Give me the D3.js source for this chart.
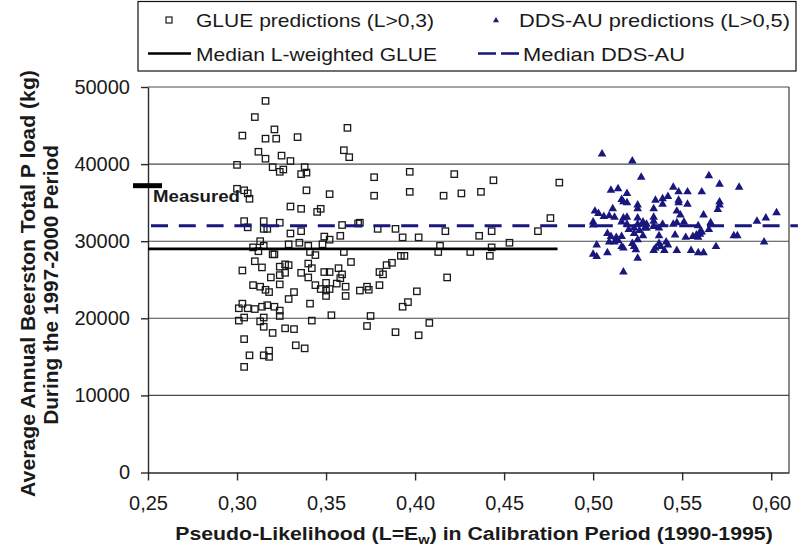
<!DOCTYPE html>
<html><head><meta charset="utf-8">
<script src="https://cdn.jsdelivr.net/npm/d3@7"></script>
<style>
body{margin:0;background:#fff}
svg{display:block}
text{font-family:"Liberation Sans",Arial,Helvetica,sans-serif;fill:#1a1a1a}
</style>
</head><body>
<svg id="c" width="798" height="548"></svg>
<script>
// ---- data ----
const glueL = [0.316,0.310,0.303,0.321,0.316,0.322,0.334,0.362,0.312,0.316,0.325,0.330,0.360,0.363,0.300,0.320,0.326,0.324,0.338,0.339,
0.336,0.300,0.304,0.306,0.307,0.339,0.352,0.330,0.336,0.347,0.345,0.304,0.306,0.315,0.315,0.317,0.324,0.359,0.368,0.330,
0.336,0.349,0.352,0.358,0.313,0.315,0.309,0.312,0.329,0.335,0.340,0.341,0.348,0.344,0.360,0.320,0.321,0.364,0.310,0.303,
0.314,0.324,0.327,0.329,0.340,0.342,0.327,0.336,0.349,0.352,0.357,0.359,0.319,0.324,0.340,0.358,0.309,0.313,0.316,0.318,
0.324,0.329,0.332,0.344,0.347,0.350,0.350,0.352,0.350,0.356,0.361,0.361,0.369,0.303,0.301,0.306,0.310,0.314,0.317,0.321,
0.324,0.324,0.341,0.301,0.304,0.313,0.315,0.315,0.320,0.327,0.332,0.342,0.353,0.304,0.333,0.338,0.307,0.315,0.318,0.318,
0.304,0.377,0.397,0.422,0.444,0.377,0.397,0.416,0.426,0.437,0.369,0.379,0.389,0.417,0.443,0.469,0.393,0.402,0.436,0.414,
0.443,0.453,0.413,0.431,0.442,0.392,0.394,0.387,0.384,0.380,0.382,0.418,0.373,0.374,0.380,0.401,0.396,0.393,0.375,0.373,
0.408,0.389,0.402,0.481,0.476];
const glueLoad = [48200,46100,43700,44500,43300,43300,43500,44700,41600,40700,41100,40400,41800,40900,39900,39600,39300,39000,39600,38900,
38700,36800,36600,36200,35500,36600,36100,34500,34200,34200,33800,32600,31800,32600,31600,31600,32400,32100,32300,31000,
31300,30600,30200,30700,30000,29400,29200,28700,29600,29800,29400,28600,29600,28200,28600,28300,28300,27300,27400,26200,
26600,26700,27000,26900,27100,26500,25900,25900,26000,26000,26500,25700,25300,25600,25300,25200,24300,24100,23700,23400,
24400,22500,23400,24300,23800,24600,23600,23800,22900,24500,24100,22900,23600,21900,21300,21300,21200,21500,21700,21500,
21000,20300,21900,19700,20100,19600,20100,18900,18100,18700,18600,19700,20400,17300,16500,16100,15200,15200,15800,15000,
13700,38300,39000,38700,37900,35900,36400,35900,36200,36400,32400,31600,31600,31300,31300,31300,30500,30500,30700,29400,
29200,29800,28600,28600,28100,28100,28100,27200,26900,26000,25700,25300,24100,23700,24300,23500,22100,21500,20300,19000,
19400,18200,17800,37600,33000];

const ddsL = [0.505,0.522,0.527,0.510,0.514,0.519,0.516,0.517,0.519,0.525,0.525,0.511,0.501,0.503,0.506,0.509,0.512,0.500,0.500,0.517,
0.519,0.516,0.519,0.525,0.525,0.528,0.530,0.520,0.523,0.526,0.529,0.508,0.510,0.513,0.516,0.523,0.528,0.525,0.509,0.512,
0.514,0.502,0.516,0.517,0.522,0.523,0.524,0.500,0.502,0.508,0.525,0.517,0.565,0.571,0.582,0.545,0.548,0.553,0.561,0.542,
0.539,0.535,0.548,0.539,0.548,0.553,0.571,0.571,0.570,0.534,0.547,0.549,0.562,0.534,0.534,0.603,0.597,0.592,0.528,0.530,
0.534,0.537,0.539,0.545,0.547,0.551,0.559,0.566,0.565,0.560,0.537,0.546,0.552,0.556,0.558,0.560,0.561,0.559,0.579,0.581,
0.596,0.569,0.537,0.541,0.542,0.538,0.534,0.535,0.540,0.547,0.555,0.559,0.562];
const ddsLoad = [41300,40400,38300,36600,36800,36200,35400,35100,35000,34700,34200,34200,33900,33600,33200,33300,33100,32500,32100,33000,
33100,32500,32200,33000,32200,32500,32200,31500,31700,31400,31700,31000,30600,30500,30600,31000,30700,30200,29900,29900,
30100,29500,29300,29100,29700,29300,28900,28300,28000,28500,27800,26000,38500,37400,37000,37000,36400,36400,36400,35800,
35500,35300,35300,34800,35000,34800,35100,34700,34100,34200,33900,33400,33400,33100,32600,33700,33000,32600,32200,31700,
31900,31700,32200,32200,32400,32500,32000,32400,31500,31200,30700,30800,30500,30600,30800,30900,31200,30500,30700,30700,
29900,29300,29700,29900,29500,29300,28800,29100,28800,28800,28800,28500,28500];

const yTickValues = [0, 10000, 20000, 30000, 40000, 50000];
const xTickValues = [0.25, 0.30, 0.35, 0.40, 0.45, 0.50, 0.55, 0.60];
const medianGlue = 29000, medianGlueEnd = 0.48;
const medianDds = 32000, medianDdsEnd = 0.615;
const measuredLoad = 37200;
const legendLabels = ["GLUE predictions (L>0,3)", "DDS-AU predictions (L>0,5)", "Median L-weighted GLUE", "Median DDS-AU"];

// ---- chart ----
const svg = d3.select("#c");
const navy = "#17177d";
const x = d3.scaleLinear().domain([0.25, 0.61]).range([148, 789]);
const y = d3.scaleLinear().domain([0, 50000]).range([472.5, 87]);

function fit(sel, target){
  sel.attr("textLength", target).attr("lengthAdjust","spacingAndGlyphs");
}
function fitScale(g, textSel, target, base){
  const w = textSel.node().getBBox().width;
  g.attr("transform", base + ` scale(${target / w},1)`);
}

// gridlines
svg.append("g").selectAll("line").data(yTickValues.filter(v => v > 0)).join("line")
  .attr("x1", x(0.25)).attr("x2", x(0.61)).attr("y1", d => y(d)).attr("y2", d => y(d))
  .attr("stroke", "#4a4a4a").attr("stroke-width", 1.1);
// right frame
svg.append("line").attr("x1", x(0.61)).attr("x2", x(0.61)).attr("y1", y(50000)).attr("y2", y(0))
  .attr("stroke", "#3a3a3a").attr("stroke-width", 1.2);

// axes
const yAxis = svg.append("g").attr("transform", `translate(${x(0.25)},0)`)
  .call(d3.axisLeft(y).tickValues(yTickValues).tickSize(7).tickSizeOuter(0).tickPadding(11).tickFormat(d3.format("d")));
const xAxis = svg.append("g").attr("transform", `translate(0,${y(0)})`)
  .call(d3.axisBottom(x).tickValues(xTickValues).tickSize(8).tickSizeOuter(0).tickPadding(15)
    .tickFormat(d => d.toFixed(2).replace(".", ",")));
[yAxis, xAxis].forEach(a => {
  a.selectAll("path,line").attr("stroke", "#2a2a2a").attr("stroke-width", 1.4);
  a.selectAll("text").attr("font-size", 20).attr("fill", "#1a1a1a")
   .style("font-family", '"Liberation Sans",Arial,sans-serif');
});

// GLUE squares
const glue = glueL.map((d, i) => ({l: d, v: glueLoad[i]}));
svg.append("g").selectAll("rect").data(glue).join("rect")
  .attr("x", d => x(d.l) - 3.2).attr("y", d => y(d.v) - 3.2)
  .attr("width", 6.4).attr("height", 6.4)
  .attr("fill", "none").attr("stroke", "#1a1a1a").attr("stroke-width", 1.3);

// DDS triangles
const dds = ddsL.map((d, i) => ({l: d, v: ddsLoad[i]}));
svg.append("g").selectAll("path").data(dds).join("path")
  .attr("transform", d => `translate(${x(d.l)},${y(d.v)})`)
  .attr("d", d3.symbol(d3.symbolTriangle, 32))
  .attr("fill", navy);

// median lines
svg.append("line").attr("x1", x(0.25)).attr("x2", x(medianGlueEnd))
  .attr("y1", y(medianGlue)).attr("y2", y(medianGlue))
  .attr("stroke", "#000").attr("stroke-width", 2.6);
svg.append("line").attr("x1", x(0.25) + 3).attr("x2", x(medianDdsEnd))
  .attr("y1", y(medianDds)).attr("y2", y(medianDds))
  .attr("stroke", navy).attr("stroke-width", 3).attr("stroke-dasharray", "17,10.8");

// measured marker
svg.append("line").attr("x1", 133).attr("x2", 162)
  .attr("y1", y(measuredLoad)).attr("y2", y(measuredLoad))
  .attr("stroke", "#000").attr("stroke-width", 5);
const meas = svg.append("text").attr("x", 153).attr("y", 202)
  .attr("font-size", 17).attr("font-weight", "bold").text("Measured");
fit(meas, 87);

// legend
const lg = svg.append("g");
lg.append("rect").attr("x", 138).attr("y", 1.5).attr("width", 658).attr("height", 69.5)
  .attr("fill", "#fff").attr("stroke", "#111").attr("stroke-width", 1.2);
lg.append("rect").attr("x", 166).attr("y", 17).attr("width", 6).attr("height", 6)
  .attr("fill", "none").attr("stroke", "#1a1a1a").attr("stroke-width", 1.2);
lg.append("path").attr("transform", "translate(496,20.5)").attr("d", d3.symbol(d3.symbolTriangle, 16)).attr("fill", navy);
lg.append("line").attr("x1", 148).attr("x2", 191).attr("y1", 53.5).attr("y2", 53.5)
  .attr("stroke", "#000").attr("stroke-width", 2.4);
lg.append("line").attr("x1", 478).attr("x2", 519).attr("y1", 53.5).attr("y2", 53.5)
  .attr("stroke", navy).attr("stroke-width", 2.6).attr("stroke-dasharray", "18,5");
const legPos = [[196, 27, 238], [519, 27, 271], [196, 60.5, 241], [523, 60.5, 162]];
legendLabels.forEach((t, i) => {
  const tx = lg.append("text").attr("x", legPos[i][0]).attr("y", legPos[i][1])
    .attr("font-size", 19).text(t);
  fit(tx, legPos[i][2]);
});

// x title
const xg = svg.append("g");
const xt = xg.append("text").attr("text-anchor", "middle").attr("font-size", 19).attr("font-weight", "bold");
xt.append("tspan").text("Pseudo-Likelihood (L=E");
xt.append("tspan").attr("font-size", 13).attr("dy", 4).text("w");
xt.append("tspan").attr("dy", -4).text(") in Calibration Period (1990-1995)");
fitScale(xg, xt, 598, "translate(474,540)");

// y title
const yg1 = svg.append("g");
const yt1 = yg1.append("text").attr("text-anchor", "middle").attr("font-size", 21).attr("font-weight", "bold")
  .text("Average Annual Beerston Total P load (kg)");
fitScale(yg1, yt1, 427, "translate(35,283.5) rotate(-90)");
const yg2 = svg.append("g");
const yt2 = yg2.append("text").attr("text-anchor", "middle").attr("font-size", 21).attr("font-weight", "bold")
  .text("During the 1997-2000 Period");
fitScale(yg2, yt2, 280, "translate(58,285) rotate(-90)");
</script>
</body></html>
